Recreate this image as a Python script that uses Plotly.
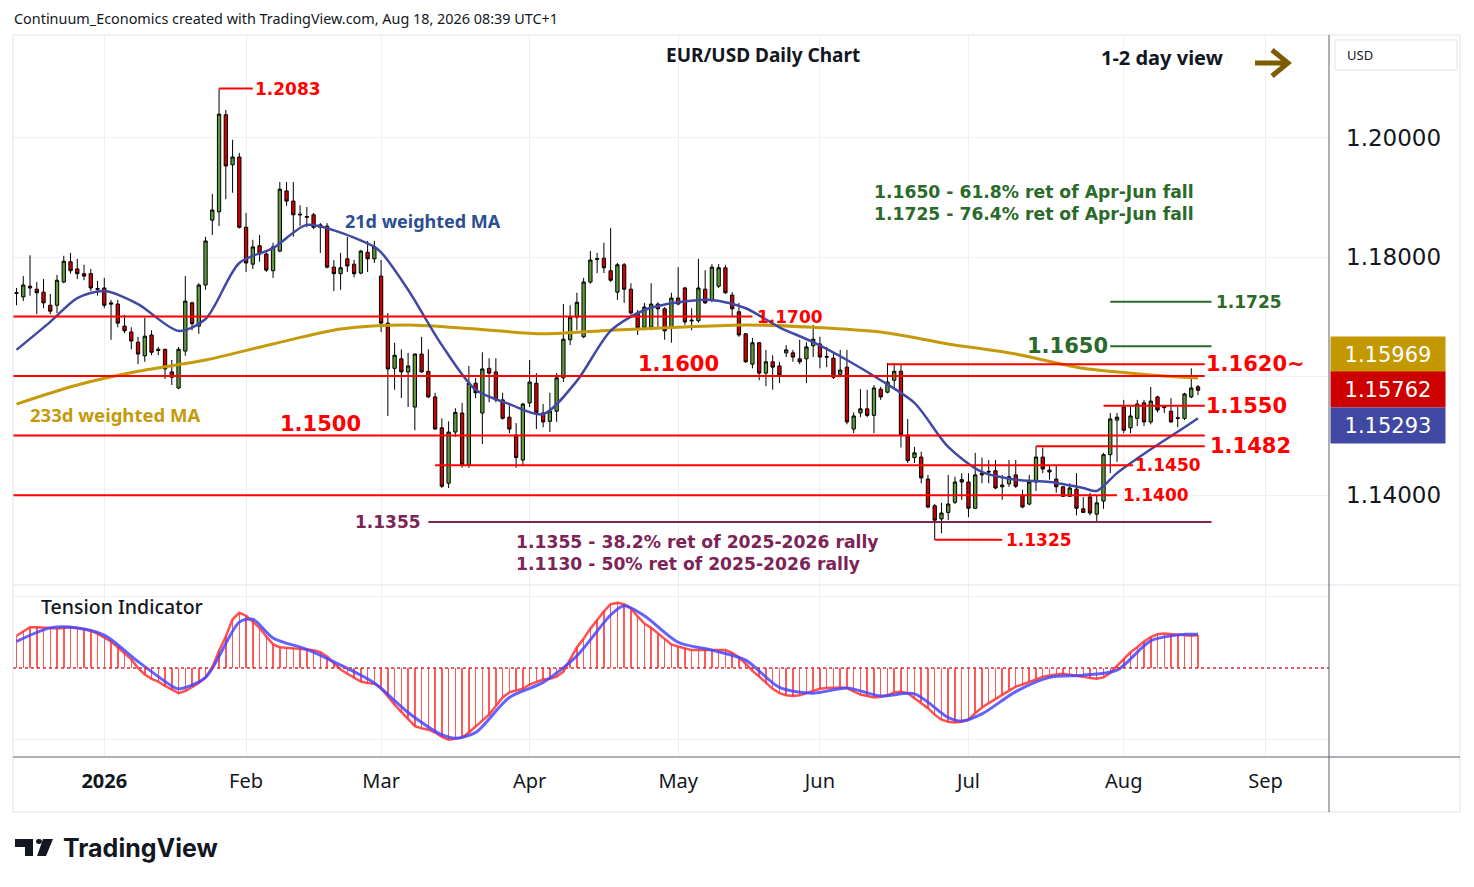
import pandas as pd
import plotly.graph_objects as go
from plotly.subplots import make_subplots

# trading days on the chart (forex: weekdays, Christmas and New Year closed)
HOLIDAYS = ["2025-12-25", "2026-01-01"]
days = [d.strftime("%Y-%m-%d") for d in pd.bdate_range("2025-12-12", "2026-08-18")]
days = [d for d in days if d not in HOLIDAYS]

# daily candles (open, high, low, close)
dec_ohlc = [
    (1.1739, 1.1748, 1.1719, 1.1740), (1.1733, 1.1768, 1.1726, 1.1753), (1.1751, 1.1803, 1.1735, 1.1748),
    (1.1746, 1.1758, 1.1704, 1.1740), (1.1741, 1.1763, 1.1714, 1.1723), (1.1719, 1.1738, 1.1704, 1.1709),
    (1.1719, 1.1770, 1.1706, 1.1761), (1.1758, 1.1802, 1.1756, 1.1793), (1.1792, 1.1807, 1.1772, 1.1777),
    (1.1780, 1.1797, 1.1763, 1.1772), (1.1772, 1.1787, 1.1761, 1.1768), (1.1772, 1.1780, 1.1743, 1.1748),
    (1.1747, 1.1760, 1.1735, 1.1746),
]
jan_ohlc = [
    (1.1748, 1.1765, 1.1714, 1.1719), (1.1723, 1.1728, 1.1661, 1.1721), (1.1721, 1.1728, 1.1682, 1.1689),
    (1.1684, 1.1703, 1.1672, 1.1676), (1.1674, 1.1682, 1.1645, 1.1659), (1.1657, 1.1666, 1.1620, 1.1637),
    (1.1634, 1.1698, 1.1624, 1.1667), (1.1669, 1.1677, 1.1635, 1.1640), (1.1645, 1.1649, 1.1635, 1.1643),
    (1.1645, 1.1646, 1.1595, 1.1612), (1.1607, 1.1627, 1.1585, 1.1598), (1.1580, 1.1649, 1.1578, 1.1645),
    (1.1642, 1.1768, 1.1634, 1.1726), (1.1723, 1.1725, 1.1677, 1.1688), (1.1684, 1.1756, 1.1671, 1.1753),
    (1.1753, 1.1834, 1.1745, 1.1827), (1.1862, 1.1906, 1.1837, 1.1879), (1.1876, 1.2083, 1.1852, 1.2040),
    (1.2039, 1.2047, 1.1897, 1.1953), (1.1955, 1.1997, 1.1908, 1.1968), (1.1968, 1.1975, 1.1848, 1.1850),
]
feb_ohlc = [
    (1.1850, 1.1874, 1.1775, 1.1790), (1.1788, 1.1829, 1.1780, 1.1817), (1.1819, 1.1837, 1.1792, 1.1805),
    (1.1805, 1.1808, 1.1775, 1.1778), (1.1777, 1.1824, 1.1765, 1.1817), (1.1810, 1.1926, 1.1808, 1.1914),
    (1.1911, 1.1926, 1.1886, 1.1894), (1.1894, 1.1926, 1.1834, 1.1871), (1.1872, 1.1887, 1.1852, 1.1871),
    (1.1868, 1.1884, 1.1850, 1.1867), (1.1871, 1.1874, 1.1847, 1.1850), (1.1850, 1.1857, 1.1807, 1.1854),
    (1.1852, 1.1857, 1.1781, 1.1783), (1.1783, 1.1795, 1.1743, 1.1772), (1.1772, 1.1807, 1.1745, 1.1782),
    (1.1797, 1.1834, 1.1775, 1.1785), (1.1788, 1.1795, 1.1766, 1.1772), (1.1773, 1.1812, 1.1771, 1.1810),
    (1.1808, 1.1827, 1.1775, 1.1797), (1.1797, 1.1827, 1.1790, 1.1817),
]
mar_ohlc = [
    (1.1768, 1.1795, 1.1674, 1.1689), (1.1689, 1.1706, 1.1533, 1.1612), (1.1613, 1.1656, 1.1577, 1.1635),
    (1.1629, 1.1645, 1.1563, 1.1607), (1.1607, 1.1639, 1.1548, 1.1617), (1.1548, 1.1638, 1.1509, 1.1637),
    (1.1637, 1.1666, 1.1606, 1.1607), (1.1608, 1.1645, 1.1563, 1.1565), (1.1565, 1.1572, 1.1510, 1.1511),
    (1.1513, 1.1529, 1.1412, 1.1415), (1.1420, 1.1524, 1.1412, 1.1506), (1.1506, 1.1546, 1.1498, 1.1539),
    (1.1538, 1.1555, 1.1446, 1.1451), (1.1451, 1.1617, 1.1446, 1.1588), (1.1588, 1.1597, 1.1563, 1.1572),
    (1.1538, 1.1640, 1.1486, 1.1612), (1.1613, 1.1630, 1.1556, 1.1605), (1.1607, 1.1630, 1.1556, 1.1560),
    (1.1560, 1.1572, 1.1527, 1.1529), (1.1531, 1.1551, 1.1504, 1.1511), (1.1501, 1.1521, 1.1446, 1.1463),
    (1.1459, 1.1555, 1.1449, 1.1553),
]
apr_ohlc = [
    (1.1555, 1.1627, 1.1548, 1.1590), (1.1588, 1.1605, 1.1511, 1.1539), (1.1538, 1.1553, 1.1514, 1.1523),
    (1.1524, 1.1572, 1.1506, 1.1541), (1.1541, 1.1605, 1.1523, 1.1597), (1.1597, 1.1721, 1.1590, 1.1662),
    (1.1661, 1.1719, 1.1652, 1.1699), (1.1699, 1.1740, 1.1677, 1.1724), (1.1666, 1.1765, 1.1664, 1.1758),
    (1.1758, 1.1810, 1.1755, 1.1795), (1.1796, 1.1807, 1.1773, 1.1797), (1.1798, 1.1824, 1.1773, 1.1782),
    (1.1777, 1.1849, 1.1758, 1.1761), (1.1741, 1.1790, 1.1728, 1.1787), (1.1787, 1.1790, 1.1723, 1.1746),
    (1.1746, 1.1756, 1.1703, 1.1706), (1.1706, 1.1711, 1.1669, 1.1681), (1.1682, 1.1723, 1.1677, 1.1716),
    (1.1682, 1.1756, 1.1677, 1.1721), (1.1721, 1.1724, 1.1679, 1.1713), (1.1713, 1.1716, 1.1661, 1.1676),
    (1.1681, 1.1740, 1.1656, 1.1731),
]
may_ohlc = [
    (1.1731, 1.1783, 1.1719, 1.1721), (1.1748, 1.1750, 1.1686, 1.1691), (1.1694, 1.1714, 1.1677, 1.1693),
    (1.1693, 1.1797, 1.1690, 1.1748), (1.1746, 1.1778, 1.1721, 1.1723), (1.1728, 1.1788, 1.1724, 1.1783),
    (1.1751, 1.1788, 1.1748, 1.1782), (1.1782, 1.1787, 1.1738, 1.1740), (1.1736, 1.1741, 1.1699, 1.1713),
    (1.1708, 1.1723, 1.1666, 1.1669), (1.1671, 1.1672, 1.1622, 1.1624), (1.1620, 1.1664, 1.1613, 1.1656),
    (1.1656, 1.1657, 1.1593, 1.1605), (1.1605, 1.1644, 1.1583, 1.1624), (1.1624, 1.1635, 1.1577, 1.1615),
    (1.1617, 1.1624, 1.1588, 1.1602), (1.1639, 1.1652, 1.1632, 1.1644), (1.1639, 1.1644, 1.1624, 1.1632),
    (1.1629, 1.1661, 1.1620, 1.1624), (1.1629, 1.1657, 1.1588, 1.1649), (1.1651, 1.1686, 1.1632, 1.1662),
]
jun_ohlc = [
    (1.1654, 1.1666, 1.1613, 1.1632), (1.1633, 1.1649, 1.1615, 1.1632), (1.1630, 1.1639, 1.1595, 1.1598),
    (1.1603, 1.1644, 1.1598, 1.1610), (1.1615, 1.1644, 1.1519, 1.1523), (1.1511, 1.1539, 1.1504, 1.1533),
    (1.1538, 1.1578, 1.1531, 1.1545), (1.1545, 1.1577, 1.1531, 1.1534), (1.1534, 1.1585, 1.1504, 1.1580),
    (1.1578, 1.1582, 1.1560, 1.1565), (1.1573, 1.1622, 1.1571, 1.1590), (1.1593, 1.1622, 1.1580, 1.1608),
    (1.1608, 1.1620, 1.1480, 1.1502), (1.1501, 1.1528, 1.1454, 1.1458), (1.1463, 1.1481, 1.1454, 1.1471),
    (1.1464, 1.1473, 1.1420, 1.1429), (1.1427, 1.1434, 1.1378, 1.1380), (1.1382, 1.1385, 1.1325, 1.1358),
    (1.1360, 1.1387, 1.1336, 1.1370), (1.1371, 1.1434, 1.1358, 1.1385), (1.1388, 1.1431, 1.1385, 1.1422),
    (1.1426, 1.1437, 1.1392, 1.1422),
]
jul_ohlc = [
    (1.1422, 1.1437, 1.1363, 1.1378), (1.1378, 1.1471, 1.1377, 1.1434), (1.1434, 1.1463, 1.1420, 1.1437),
    (1.1440, 1.1459, 1.1420, 1.1439), (1.1441, 1.1459, 1.1410, 1.1412), (1.1414, 1.1434, 1.1392, 1.1417),
    (1.1419, 1.1459, 1.1414, 1.1431), (1.1434, 1.1459, 1.1412, 1.1415), (1.1400, 1.1409, 1.1378, 1.1380),
    (1.1385, 1.1434, 1.1383, 1.1422), (1.1422, 1.1482, 1.1407, 1.1464), (1.1464, 1.1480, 1.1437, 1.1444),
    (1.1442, 1.1449, 1.1426, 1.1439), (1.1427, 1.1449, 1.1404, 1.1414), (1.1414, 1.1415, 1.1397, 1.1398),
    (1.1398, 1.1420, 1.1397, 1.1412), (1.1410, 1.1437, 1.1366, 1.1378), (1.1377, 1.1397, 1.1370, 1.1371),
    (1.1397, 1.1404, 1.1366, 1.1370), (1.1368, 1.1400, 1.1356, 1.1387), (1.1390, 1.1471, 1.1377, 1.1468),
    (1.1468, 1.1538, 1.1437, 1.1528), (1.1526, 1.1538, 1.1456, 1.1531),
]
aug_ohlc = [
    (1.1548, 1.1560, 1.1504, 1.1509), (1.1513, 1.1548, 1.1504, 1.1533), (1.1529, 1.1560, 1.1516, 1.1553),
    (1.1555, 1.1560, 1.1516, 1.1523), (1.1523, 1.1582, 1.1519, 1.1558), (1.1565, 1.1567, 1.1539, 1.1543),
    (1.1549, 1.1551, 1.1538, 1.1547), (1.1541, 1.1563, 1.1521, 1.1523), (1.1530, 1.1548, 1.1514, 1.1529),
    (1.1529, 1.1572, 1.1526, 1.1570), (1.1565, 1.1613, 1.1563, 1.1580), (1.1582, 1.1585, 1.1568, 1.15762),
]

# 21d and 233d weighted moving averages, read at roughly weekly points
ma21_dates = ["2025-12-12", "2025-12-19", "2025-12-26", "2026-01-02", "2026-01-09", "2026-01-19",
              "2026-01-23", "2026-01-30", "2026-02-06", "2026-02-13", "2026-02-20", "2026-02-27",
              "2026-03-02", "2026-03-06", "2026-03-13", "2026-03-20", "2026-03-27", "2026-04-03",
              "2026-04-10", "2026-04-17", "2026-04-24", "2026-05-01", "2026-05-08", "2026-05-15",
              "2026-05-22", "2026-05-29", "2026-06-05", "2026-06-12", "2026-06-19", "2026-06-26",
              "2026-07-03", "2026-07-10", "2026-07-17", "2026-07-24", "2026-07-28", "2026-07-31",
              "2026-08-07", "2026-08-14", "2026-08-18"]
ma21_values = [1.1644, 1.1691, 1.1731, 1.1743, 1.1721, 1.1676, 1.1696, 1.1790, 1.1815, 1.1854,
               1.1841, 1.1817, 1.1808, 1.1745, 1.1652, 1.1577, 1.1553, 1.1536, 1.1592, 1.1676,
               1.1711, 1.1724, 1.1728, 1.1714, 1.1682, 1.1657, 1.1627, 1.1593, 1.1555, 1.1481,
               1.1439, 1.1426, 1.1422, 1.1412, 1.1407, 1.1437, 1.1477, 1.1514, 1.15293]
ma233_dates = ["2025-12-12", "2025-12-26", "2026-01-09", "2026-01-23", "2026-02-06", "2026-02-20",
               "2026-03-06", "2026-03-20", "2026-04-03", "2026-04-17", "2026-05-01", "2026-05-15",
               "2026-05-29", "2026-06-12", "2026-06-26", "2026-07-10", "2026-07-24", "2026-08-07",
               "2026-08-18"]
ma233_values = [1.1553, 1.1585, 1.1608, 1.1627, 1.1654, 1.1679, 1.1686, 1.1679, 1.1671, 1.1677,
                1.1682, 1.1686, 1.1682, 1.1674, 1.1654, 1.1637, 1.1613, 1.1602, 1.15969]

# tension indicator (red, one value per day) and its signal line (blue)
tension_dec = [0.45, 0.51, 0.57, 0.57, 0.57, 0.56, 0.55, 0.56, 0.57, 0.56, 0.54, 0.52, 0.48]
tension_jan = [0.43, 0.37, 0.29, 0.21, 0.12, 0.00, -0.09, -0.15, -0.19, -0.25, -0.30, -0.35, -0.32,
               -0.27, -0.21, -0.13, 0.01, 0.24, 0.44, 0.68, 0.77]
tension_feb = [0.73, 0.65, 0.56, 0.44, 0.33, 0.29, 0.28, 0.28, 0.27, 0.26, 0.25, 0.22, 0.16, 0.07,
               -0.02, -0.08, -0.14, -0.19, -0.21, -0.22]
tension_mar = [-0.28, -0.40, -0.51, -0.61, -0.71, -0.81, -0.84, -0.86, -0.90, -0.96, -1.00, -0.99,
               -0.97, -0.90, -0.82, -0.73, -0.65, -0.53, -0.41, -0.34, -0.31, -0.29]
tension_apr = [-0.23, -0.19, -0.16, -0.15, -0.12, -0.05, 0.11, 0.29, 0.41, 0.55, 0.67, 0.79, 0.89,
               0.91, 0.89, 0.83, 0.72, 0.62, 0.56, 0.48, 0.41, 0.33]
tension_may = [0.30, 0.28, 0.25, 0.25, 0.25, 0.25, 0.25, 0.25, 0.21, 0.15, 0.06, -0.04, -0.12, -0.21,
               -0.29, -0.35, -0.38, -0.39, -0.38, -0.35, -0.32]
tension_jun = [-0.29, -0.28, -0.27, -0.27, -0.28, -0.33, -0.37, -0.39, -0.41, -0.40, -0.38, -0.34,
               -0.33, -0.35, -0.42, -0.48, -0.56, -0.65, -0.72, -0.75, -0.76, -0.75]
tension_jul = [-0.72, -0.63, -0.55, -0.49, -0.43, -0.37, -0.31, -0.26, -0.23, -0.20, -0.16, -0.12,
               -0.10, -0.09, -0.08, -0.09, -0.10, -0.12, -0.14, -0.15, -0.13, -0.07, 0.03]
tension_aug = [0.13, 0.22, 0.29, 0.37, 0.43, 0.47, 0.48, 0.47, 0.46, 0.45, 0.45, 0.46]

signal_dates = ["2025-12-12", "2025-12-19", "2025-12-26", "2026-01-02", "2026-01-09", "2026-01-16",
                "2026-01-19", "2026-01-23", "2026-01-30", "2026-02-03", "2026-02-06", "2026-02-13",
                "2026-02-20", "2026-02-27", "2026-03-06", "2026-03-13", "2026-03-17", "2026-03-20",
                "2026-03-27", "2026-04-03", "2026-04-10", "2026-04-17", "2026-04-21", "2026-04-24",
                "2026-05-01", "2026-05-08", "2026-05-15", "2026-05-22", "2026-05-29", "2026-06-05",
                "2026-06-12", "2026-06-19", "2026-06-26", "2026-06-30", "2026-07-03", "2026-07-10",
                "2026-07-17", "2026-07-24", "2026-07-31", "2026-08-07", "2026-08-14", "2026-08-18"]
signal_values = [0.37, 0.56, 0.56, 0.46, 0.09, -0.25, -0.29, -0.13, 0.64, 0.68, 0.42, 0.26,
                 0.04, -0.21, -0.62, -0.93, -0.98, -0.90, -0.41, -0.20, 0.17, 0.74, 0.87, 0.73,
                 0.36, 0.25, 0.11, -0.27, -0.35, -0.28, -0.39, -0.36, -0.69, -0.74, -0.64, -0.33,
                 -0.13, -0.10, -0.03, 0.38, 0.47, 0.47]

# month ticks
tick_dates = ["2026-01-02", "2026-02-02", "2026-03-02", "2026-04-01", "2026-05-01",
              "2026-06-01", "2026-07-01", "2026-08-03", "2026-09-01"]
tick_text = ["<b>2026</b>", "Feb", "Mar", "Apr", "May", "Jun", "Jul", "Aug", "Sep"]

ohlc = dec_ohlc + jan_ohlc + feb_ohlc + mar_ohlc + apr_ohlc + may_ohlc + jun_ohlc + jul_ohlc + aug_ohlc
tension = (tension_dec + tension_jan + tension_feb + tension_mar + tension_apr + tension_may
           + tension_jun + tension_jul + tension_aug)
assert len(ohlc) == len(days) == len(tension)

X_LEFT = "2025-12-11 11:30"
X_RIGHT = "2026-09-14 09:36"
RED = "#ff0000"
GREEN = "#2a6a2a"
PURPLE = "#7d2457"
NUM_FONT = "DejaVu Sans"
TXT_FONT = "Noto Sans"

fig = make_subplots(rows=2, cols=1, shared_xaxes=True, vertical_spacing=0,
                    row_heights=[0.7618, 0.2382])

fig.add_trace(go.Candlestick(
    x=days,
    open=[c[0] for c in ohlc], high=[c[1] for c in ohlc],
    low=[c[2] for c in ohlc], close=[c[3] for c in ohlc],
    increasing=dict(line=dict(color="#000000", width=1), fillcolor="#5e9b3b"),
    decreasing=dict(line=dict(color="#000000", width=1), fillcolor="#d10000"),
    whiskerwidth=0, hoverinfo="skip",
), row=1, col=1)

fig.add_trace(go.Scatter(x=ma233_dates, y=ma233_values, mode="lines",
                         line=dict(color="#c49a0a", width=3, shape="spline", smoothing=0.8),
                         hoverinfo="skip"), row=1, col=1)
fig.add_trace(go.Scatter(x=ma21_dates, y=ma21_values, mode="lines",
                         line=dict(color="#4049a3", width=2.5, shape="spline", smoothing=0.8),
                         hoverinfo="skip"), row=1, col=1)

# tension indicator panel
fig.add_trace(go.Bar(x=days, y=tension, width=86400000 * 0.22,
                     marker=dict(color="rgba(255,60,60,0.85)", line=dict(width=0)),
                     hoverinfo="skip"), row=2, col=1)
fig.add_trace(go.Scatter(x=days, y=tension, mode="lines",
                         line=dict(color="rgba(255,50,50,0.85)", width=2.5),
                         hoverinfo="skip"), row=2, col=1)
fig.add_trace(go.Scatter(x=signal_dates, y=signal_values, mode="lines",
                         line=dict(color="rgba(70,70,255,0.85)", width=3, shape="spline", smoothing=0.8),
                         hoverinfo="skip"), row=2, col=1)

shapes = []


def hline(price, x0, x1, color, width=2):
    shapes.append(dict(type="line", xref="x", yref="y", x0=x0, x1=x1, y0=price, y1=price,
                       line=dict(color=color, width=width), layer="above"))


hline(1.2083, "2026-01-27", "2026-02-03", RED)
hline(1.1700, X_LEFT, "2026-05-18", RED)
hline(1.1600, X_LEFT, "2026-08-19", RED)
hline(1.1500, X_LEFT, "2026-08-19", RED)
hline(1.1400, X_LEFT, "2026-07-31", RED)
hline(1.1450, "2026-03-12", "2026-08-04 09:00", RED)
hline(1.1620, "2026-06-15", "2026-08-19", RED)
hline(1.1550, "2026-07-29", "2026-08-19", RED)
hline(1.1482, "2026-07-15", "2026-08-19", RED)
hline(1.1325, "2026-06-24", "2026-07-08", RED)
hline(1.1355, "2026-03-11", "2026-08-20", PURPLE)
hline(1.1725, "2026-07-30", "2026-08-20", GREEN)
hline(1.1650, "2026-07-30", "2026-08-20", GREEN)

# dotted zero line of the indicator
shapes.append(dict(type="line", xref="paper", yref="y2", x0=0, x1=1, y0=0, y1=0,
                   line=dict(color="#d03030", width=1.5, dash="dot")))

# frame, panel separator and price-scale border
shapes += [
    dict(type="rect", xref="paper", yref="paper", x0=0, x1=1.0995, y0=-0.0762, y1=1.0,
         line=dict(color="#e0e3eb", width=1)),
    dict(type="line", xref="paper", yref="paper", x0=0, x1=1.0995, y0=0.2382, y1=0.2382,
         line=dict(color="#e0e3eb", width=1)),
    dict(type="line", xref="paper", yref="paper", x0=0, x1=1.0995, y0=0, y1=0,
         line=dict(color="#5d606b", width=1)),
    dict(type="line", xref="paper", yref="paper", x0=1, x1=1, y0=-0.0762, y1=1.0,
         line=dict(color="#5d606b", width=1)),
    dict(type="rect", xref="paper", yref="paper", x0=1.0046, x1=1.0973, y0=0.9515, y1=0.9931,
         line=dict(color="#e0e3eb", width=1)),
    # "1-2 day view" arrow
    dict(type="path", xref="paper", yref="paper",
         path="M 0.9438,0.9612 L 0.9681,0.9612 M 0.9567,0.9792 L 0.9688,0.9612 L 0.9567,0.9432",
         line=dict(color="#7d5c00", width=5)),
    # TradingView logo
    dict(type="path", xref="paper", yref="paper",
         path="M 0.0015,-0.1136 L 0.0152,-0.1136 L 0.0152,-0.1371 L 0.0091,-0.1371 "
              "L 0.0091,-0.1247 L 0.0015,-0.1247 Z",
         fillcolor="#131722", line=dict(width=0)),
    dict(type="circle", xref="paper", yref="paper", x0=0.0175, x1=0.0220, y0=-0.1205, y1=-0.1136,
         fillcolor="#131722", line=dict(width=0)),
    dict(type="path", xref="paper", yref="paper",
         path="M 0.0228,-0.1136 L 0.0304,-0.1136 L 0.0251,-0.1371 L 0.0183,-0.1371 Z",
         fillcolor="#131722", line=dict(width=0)),
]

annotations = []


def label(text, x, y, color, size, xanchor="left", yanchor="middle", xshift=0, yshift=0,
          xref="x", yref="y", family=NUM_FONT, weight="normal"):
    annotations.append(dict(text=text, x=x, y=y, xref=xref, yref=yref, showarrow=False,
                            xanchor=xanchor, yanchor=yanchor, xshift=xshift, yshift=yshift,
                            borderpad=0,
                            font=dict(family=family, size=size, color=color, weight=weight)))


BIG, SMALL = 21, 17
label("<b>1.2083</b>", "2026-02-03", 1.2083, RED, SMALL, xshift=1)
label("<b>1.1700</b>", "2026-05-18", 1.1700, RED, SMALL, xshift=4)
label("<b>1.1600</b>", "2026-05-01", 1.1600, RED, BIG, xanchor="center", yanchor="bottom", yshift=-1)
label("<b>1.1500</b>", "2026-02-17", 1.1500, RED, BIG, xanchor="center", yanchor="bottom", yshift=-1)
label("<b>1.1620~</b>", "2026-08-19", 1.1620, RED, BIG)
label("<b>1.1550</b>", "2026-08-19", 1.1550, RED, BIG)
label("<b>1.1482</b>", "2026-08-19", 1.1482, RED, BIG, xshift=4)
label("<b>1.1450</b>", "2026-08-04 09:00", 1.1450, RED, SMALL, xshift=1)
label("<b>1.1400</b>", "2026-07-31", 1.1400, RED, SMALL, xshift=5)
label("<b>1.1325</b>", "2026-07-08", 1.1325, RED, SMALL, xshift=3)
label("<b>1.1355</b>", "2026-03-11", 1.1355, PURPLE, 17, xanchor="right", xshift=-6)
label("<b>1.1725</b>", "2026-08-20", 1.1725, GREEN, SMALL, xshift=3)
label("<b>1.1650</b>", "2026-07-30", 1.1650, GREEN, BIG, xanchor="right", xshift=-1)

# free text, placed on the page
label("<b>1.1650 - 61.8% ret of Apr-Jun fall</b>", 0.6535, 0.7826, GREEN, 17.2, xref="paper",
      yref="paper")
label("<b>1.1725 - 76.4% ret of Apr-Jun fall</b>", 0.6535, 0.7521, GREEN, 17.2, xref="paper",
      yref="paper")
label("<b>1.1355 - 38.2% ret of 2025-2026 rally</b>", 0.3815, 0.2978, PURPLE, 17.2, xref="paper",
      yref="paper")
label("<b>1.1130 - 50% ret of 2025-2026 rally</b>", 0.3815, 0.2673, PURPLE, 17.2, xref="paper",
      yref="paper")
label("<b>21d weighted MA</b>", 0.2515, 0.7424, "#2b4f91", 18, xref="paper", yref="paper",
      family=TXT_FONT)
label("<b>233d weighted MA</b>", 0.0122, 0.4737, "#c49a0a", 18.5, xref="paper", yref="paper",
      family=TXT_FONT)
label("<b>EUR/USD Daily Chart</b>", 0.5699, 0.9723, "#131722", 19, xanchor="center", xref="paper",
      yref="paper", family=TXT_FONT)
label("<b>1-2 day view</b>", 0.8731, 0.9695, "#131722", 20, xanchor="center", xref="paper",
      yref="paper", family=TXT_FONT)
label("Tension Indicator", 0.0205, 0.2078, "#131722", 19.5, xref="paper", yref="paper",
      family=TXT_FONT, weight=500)
label("Continuum_Economics created with TradingView.com, Aug 18, 2026 08:39 UTC+1", 0.0, 1.0222,
      "#131722", 14.4, xref="paper", yref="paper", family=TXT_FONT)
label("<b>TradingView</b>", 0.0373, -0.1260, "#131722", 25, xref="paper", yref="paper",
      family="Inter")
label("USD", 1.0129, 0.9723, "#131722", 13, xref="paper", yref="paper", family=TXT_FONT)

# last-value tags on the price scale
for txt, bg, ypos in [("1.15969", "#c49800", 0.5575), ("1.15762", "#cc0000", 0.5090),
                      ("1.15293", "#3f48a2", 0.4598)]:
    annotations.append(dict(text=txt, x=1.00076, y=ypos, xref="paper", yref="paper", showarrow=False,
                            xanchor="left", yanchor="middle", width=106, height=27, borderpad=4,
                            bgcolor=bg, align="center",
                            font=dict(family=NUM_FONT, size=21, color="#ffffff")))

# the page body has an 8px margin, so the figure is 8px smaller and shifted margins compensate
fig.update_layout(
    width=1466, height=879,
    margin=dict(l=5, r=145, t=27, b=130),
    paper_bgcolor="#ffffff", plot_bgcolor="#ffffff",
    showlegend=False, bargap=0,
    shapes=shapes, annotations=annotations,
    font=dict(family=TXT_FONT, color="#131722"),
)

fig.update_xaxes(
    range=[X_LEFT, X_RIGHT],
    rangebreaks=[dict(bounds=["sat", "mon"]), dict(values=HOLIDAYS)],
    tickvals=tick_dates, ticktext=tick_text,
    showgrid=True, gridcolor="#edf0f5", gridwidth=1,
    zeroline=False, showline=False, ticks="",
    rangeslider_visible=False,
)
fig.update_xaxes(showticklabels=False, row=1, col=1)
fig.update_xaxes(showticklabels=True, tickfont=dict(family=TXT_FONT, size=20, color="#131722"),
                 ticklabelstandoff=10, row=2, col=1)

fig.update_yaxes(
    side="right", range=[1.1249, 1.2173],
    tickvals=[1.14, 1.16, 1.18, 1.20], ticktext=["1.14000", "", "1.18000", "1.20000"],
    tickfont=dict(family=NUM_FONT, size=23, color="#131722"),
    ticklabelstandoff=16,
    showgrid=True, gridcolor="#edf0f5", zeroline=False, showline=False, ticks="",
    row=1, col=1,
)
fig.update_yaxes(
    side="right", range=[-1.241, 1.158], tickvals=[-1, 1], showticklabels=False,
    showgrid=True, gridcolor="#edf0f5", zeroline=False, showline=False, ticks="",
    row=2, col=1,
)

fig.write_html("out.html")
